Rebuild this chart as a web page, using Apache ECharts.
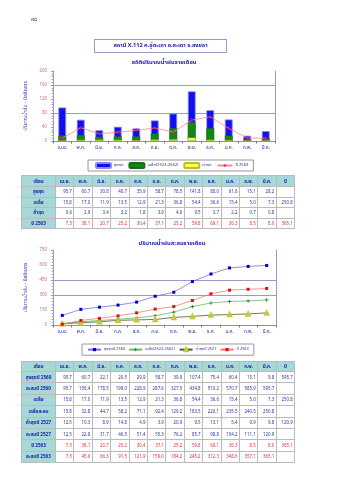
<!DOCTYPE html>
<html><head><meta charset="utf-8">
<script src="https://cdn.jsdelivr.net/npm/echarts@6/dist/echarts.min.js"></script>
<style>
html,body{margin:0;padding:0;background:#fff;}
#page{position:relative;width:339px;height:480px;overflow:hidden;font-family:"Noto Sans Thai","Noto Sans","DejaVu Sans",sans-serif;}
#chart{position:absolute;left:0;top:0;width:339px;height:480px;}
.pno{position:absolute;left:31px;top:15px;font-size:6px;color:#333;}
.hdr{position:absolute;left:94px;top:39px;width:131px;height:12px;border:1px solid #9999cc;color:#2222aa;font-size:5.6px;font-weight:bold;text-align:center;line-height:12px;}
table.t{position:absolute;left:21px;width:274px;border-collapse:collapse;table-layout:fixed;font-size:4.4px;border:1px solid #777;}
table.t td{border:0.5px solid #bbb;text-align:right;padding:0 1.5px;overflow:hidden;white-space:nowrap;color:#3333aa;}
table.t td.h{background:#a6d8d8;text-align:center;font-weight:bold;color:#2222aa;font-size:4.6px;}
table.t td.red{color:#dd3344;}
</style></head>
<body><div id="page">
<div id="chart"></div>
<div class="pno">๙๘</div>
<div class="hdr">สถานี X.112 ค.อู่ตะเภา อ.สะเดา จ.สงขลา</div>
<div id="tables"></div>
</div>
<script>
const months = ['เม.ย.','พ.ค.','มิ.ย.','ก.ค.','ส.ค.','ก.ย.','ต.ค.','พ.ย.','ธ.ค.','ม.ค.','ก.พ.','มี.ค.'];
const maxMonthly = [95.7,60.7,30.8,40.7,35.9,58.7,78.5,141.8,88.0,61.6,15.1,28.2];
const meanMonthly = [15.8,17.0,11.9,13.5,12.9,21.3,36.8,54.4,36.6,15.4,5.0,7.3];
const minMonthly = [0.6,2.9,3.4,3.2,1.8,3.9,4.6,9.5,3.7,2.2,0.7,0.8];
const y2563 = [7.5,38.1,20.7,25.2,30.4,37.1,25.2,59.8,69.1,36.3,8.5,8.0];
const max2560 = [95.7,60.7,22.1,20.5,29.9,58.7,39.9,107.4,75.4,60.4,15.1,9.8];
const cumMax2560 = [95.7,156.4,178.5,199.0,228.9,287.6,327.5,434.8,510.2,570.7,585.9,595.7];
const cumMean = [15.8,32.8,44.7,58.2,71.1,92.4,129.2,183.5,220.1,235.5,240.5,250.8];
const min2527 = [12.5,10.3,8.9,14.8,4.9,3.9,20.9,9.5,13.1,5.4,6.9,9.8];
const cumMin2527 = [12.5,22.8,31.7,46.5,51.4,55.3,76.2,85.7,98.8,104.2,111.1,120.9];
const cum2563 = [7.5,45.6,66.3,91.5,121.9,159.0,184.2,245.2,312.3,348.6,357.1,365.1];
const totals = {mean:250.8, y2563:365.1, max2560:595.7, min2527:120.9};
const ticks1 = [0,40,80,120,160,200];
const ticks2 = [0,150,300,450,600,750];

const FONT = '"Noto Sans Thai","Noto Sans",sans-serif';
const T = 'rgba(0,0,0,0)';
const GL = '#9a9ad0';

function tableHTML(top, headH, rowH, rows){
  let colw = '<colgroup><col style="width:34px">' + months.map(()=>'<col style="width:18.4px">').join('') + '<col style="width:18.6px"></colgroup>';
  let h = '<tr style="height:'+headH+'px"><td class="h">เดือน</td>' + months.map(m=>'<td class="h">'+m+'</td>').join('') + '<td class="h">ปี</td></tr>';
  let body = rows.map(r=>'<tr style="height:'+rowH+'px"><td class="h">'+r.label+'</td>' +
     r.vals.map(v=>'<td class="'+(r.red?'red':'')+'">'+v.toFixed(1)+'</td>').join('') +
     '<td class="'+(r.red?'red':'')+'">'+(r.total!=null?r.total.toFixed(1):'')+'</td></tr>').join('');
  return '<table class="t" style="top:'+top+'px">'+colw+h+body+'</table>';
}
document.getElementById('tables').innerHTML =
  tableHTML(175, 11, 10.6, [
    {label:'สูงสุด', vals:maxMonthly},
    {label:'เฉลี่ย', vals:meanMonthly, total:totals.mean},
    {label:'ต่ำสุด', vals:minMonthly},
    {label:'ปี 2563', vals:y2563, total:totals.y2563, red:true}
  ]) +
  tableHTML(361, 10, 11.4, [
    {label:'สูงสุดปี 2560', vals:max2560, total:totals.max2560},
    {label:'สะสมปี 2560', vals:cumMax2560},
    {label:'เฉลี่ย', vals:meanMonthly, total:totals.mean},
    {label:'เฉลี่ยสะสม', vals:cumMean},
    {label:'ต่ำสุดปี 2527', vals:min2527, total:totals.min2527},
    {label:'สะสมปี 2527', vals:cumMin2527},
    {label:'ปี 2563', vals:y2563, total:totals.y2563, red:true},
    {label:'สะสมปี 2563', vals:cum2563, red:true}
  ]);

const chart = echarts.init(document.getElementById('chart'), null, {renderer:'canvas'});
const star = 'path://M0,-10L3,-3L10,0L3,3L0,10L-3,3L-10,0L-3,-3Z';
const plus = 'path://M-2,-10H2V-2H10V2H2V10H-2V2H-10V-2H-2Z';
const axLbl = {color:'#2a2aa8', fontSize:4.6, fontFamily:FONT, margin:5};
const yLbl = {color:'#c07070', fontSize:4.4, fontFamily:FONT, margin:6};
function yAx(gi, max, interval, lines, nameGap){
  return {type:'value', gridIndex:gi, min:0, max:max, interval:interval,
    name:'ปริมาณน้ำฝน - มิลลิเมตร', nameLocation:'middle', nameRotate:90, nameGap:nameGap,
    nameTextStyle:{color:'#3333bb', fontSize:5, fontFamily:FONT},
    axisLine:{show:true, lineStyle:{color:GL, width:1}},
    axisTick:{show:true, length:2, lineStyle:{color:GL}},
    minorTick:{show:true, splitNumber:5, length:1.2, lineStyle:{color:GL}},
    axisLabel:yLbl,
    splitLine:{show:true, showMinLine:true, showMaxLine:true, lineStyle:{color:lines, width:1}}};
}
function rightAx(gi, max){
  return {type:'value', gridIndex:gi, min:0, max:max, position:'right',
    axisLine:{show:true, lineStyle:{color:GL}}, axisTick:{show:false}, axisLabel:{show:false}, splitLine:{show:false}};
}
function xAx(gi){
  return {type:'category', gridIndex:gi, data:months, boundaryGap:true,
    axisLine:{show:true, lineStyle:{color:'#777', width:0.8}},
    axisTick:{show:true, interval:0, length:2.5, lineStyle:{color:'#777'}},
    axisLabel:Object.assign({interval:0}, axLbl)};
}

const option = {
  backgroundColor:'transparent',
  animation:false,
  textStyle:{fontFamily:FONT},
  title:[
    {text:'สถิติปริมาณน้ำฝนรายเดือน', left:159, top:55, textAlign:'center', textStyle:{fontSize:5.8, color:'#2222aa', fontWeight:'bold', fontFamily:FONT}},
    {text:'ปริมาณน้ำฝนสะสมรายเดือน', left:167, top:236, textAlign:'center', textStyle:{fontSize:5.8, color:'#2222aa', fontWeight:'bold', fontFamily:FONT}}
  ],
  legend:[
    {left:88, top:160, width:200, padding:[2,5,2,7], itemGap:5, itemWidth:15, itemHeight:5,
     borderColor:'#999', borderWidth:1,
     textStyle:{fontSize:4.1, color:'#2a2aa8', fontFamily:FONT, padding:[0,0,0,-2]},
     data:['สูงสุด','เฉลี่ย(2522-2562)','ต่ำสุด','ปี 2563']},
    {left:82, top:344, width:220, padding:[3,4,3,5], itemGap:3, itemWidth:13, itemHeight:4,
     borderColor:'#999', borderWidth:1,
     textStyle:{fontSize:3.9, color:'#2a2aa8', fontFamily:FONT, padding:[0,0,0,-2]},
     data:['สูงสุดปี 2560','เฉลี่ย(2522-2562) ','ต่ำสุดปี 2527','ปี 2563 ']}
  ],
  grid:[
    {left:53, top:71, width:222, height:70},
    {left:53, top:250, width:223, height:75}
  ],
  xAxis:[xAx(0), xAx(1)],
  yAxis:[
    yAx(0, 200, 40, [T,T,GL,T,GL,T], 19),
    yAx(1, 750, 150, [T,T,GL,GL,T,T], 24),
    rightAx(0,200), rightAx(1,750)
  ],
  series:[
    {name:'สูงสุด', type:'bar', xAxisIndex:0, yAxisIndex:0, data:maxMonthly, barWidth:'42%', barGap:'-100%',
     itemStyle:{color:'#1010ee', borderColor:'#8a8ae8', borderWidth:0.8}},
    {name:'เฉลี่ย(2522-2562)', type:'bar', xAxisIndex:0, yAxisIndex:0, data:meanMonthly, barWidth:'42%', barGap:'-100%',
     itemStyle:{color:'#118811', borderColor:'#226622', borderWidth:0.5}},
    {name:'ต่ำสุด', type:'bar', xAxisIndex:0, yAxisIndex:0, data:minMonthly, barWidth:'42%', barGap:'-100%',
     itemStyle:{color:'#ffff55', borderColor:'#bbbb33', borderWidth:0.5}},
    {name:'ปี 2563', type:'line', xAxisIndex:0, yAxisIndex:0, data:y2563, symbol:star, symbolSize:4.5,
     lineStyle:{color:'#ff8a8a', width:0.8}, itemStyle:{color:'#dd1177'}, z:5},

    {name:'สูงสุดปี 2560', type:'line', xAxisIndex:1, yAxisIndex:1, data:cumMax2560, symbol:'rect', symbolSize:3,
     lineStyle:{color:'#7474d4', width:0.8}, itemStyle:{color:'#0000cc'}},
    {name:'เฉลี่ย(2522-2562) ', type:'line', xAxisIndex:1, yAxisIndex:1, data:cumMean, symbol:plus, symbolSize:3.5,
     lineStyle:{color:'#66bb66', width:0.8}, itemStyle:{color:'#117711'}},
    {name:'ต่ำสุดปี 2527', type:'line', xAxisIndex:1, yAxisIndex:1, data:cumMin2527, symbol:'emptyTriangle', symbolSize:3.5,
     lineStyle:{color:'#555533', width:0.8}, itemStyle:{color:'#c8c830', borderColor:'#b8b820', borderWidth:0.8}},
    {name:'ปี 2563 ', type:'line', xAxisIndex:1, yAxisIndex:1, data:cum2563, symbol:'rect', symbolSize:3,
     lineStyle:{color:'#ff7777', width:0.8}, itemStyle:{color:'#dd1111'}}
  ]
};
chart.setOption(option);
</script>
</body></html>
